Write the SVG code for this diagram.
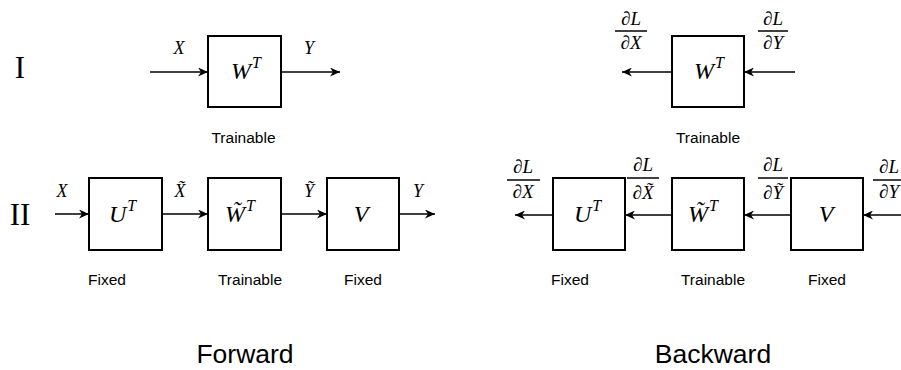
<svg xmlns="http://www.w3.org/2000/svg" width="901" height="370" viewBox="0 0 901 370">
<style>
.box{fill:#fff;stroke:#000;stroke-width:2}
.conn{stroke:#000;stroke-width:1.3;fill:none}
.m{font-family:"Liberation Serif","Times New Roman",serif;font-style:italic;font-size:18px;fill:#000}
.f{font-size:19px}
.mb{font-family:"Liberation Serif","Times New Roman",serif;font-style:italic;font-size:24px;fill:#000}
.sup{font-size:16px}
.lab{font-family:"Liberation Sans",Arial,sans-serif;font-size:15.5px;fill:#000;text-anchor:middle}
.big{font-family:"Liberation Sans",Arial,sans-serif;font-size:26.5px;fill:#000;text-anchor:middle}
.rom{font-family:"Liberation Serif","Times New Roman",serif;font-size:31px;fill:#000;text-anchor:middle}
.bar{stroke:#000;stroke-width:1.5}
.c{text-anchor:middle}
</style>
<defs>
<marker id="ah" markerUnits="userSpaceOnUse" markerWidth="11" markerHeight="9" refX="10" refY="4.5" orient="auto">
<path d="M0,0 L10,4.5 L0,9 L3,4.5 z" fill="#000"/>
</marker>
</defs>

<text class="rom" x="20" y="78">I</text>
<text class="rom" x="20" y="225">II</text>

<g id="connectors">
<line class="conn" x1="150" y1="72" x2="208" y2="72" marker-end="url(#ah)"/>
<line class="conn" x1="281" y1="72" x2="340" y2="72" marker-end="url(#ah)"/>
<line class="conn" x1="55" y1="214" x2="89" y2="214" marker-end="url(#ah)"/>
<line class="conn" x1="162" y1="214" x2="208" y2="214" marker-end="url(#ah)"/>
<line class="conn" x1="281" y1="214" x2="327" y2="214" marker-end="url(#ah)"/>
<line class="conn" x1="399" y1="214" x2="435" y2="214" marker-end="url(#ah)"/>
<line class="conn" x1="795" y1="72" x2="744" y2="72" marker-end="url(#ah)"/>
<line class="conn" x1="672" y1="72" x2="622" y2="72" marker-end="url(#ah)"/>
<line class="conn" x1="901" y1="215" x2="863" y2="215" marker-end="url(#ah)"/>
<line class="conn" x1="791" y1="215" x2="744" y2="215" marker-end="url(#ah)"/>
<line class="conn" x1="672" y1="215" x2="625" y2="215" marker-end="url(#ah)"/>
<line class="conn" x1="553" y1="215" x2="515" y2="215" marker-end="url(#ah)"/>
</g>

<!-- Forward labels -->
<text class="m c" x="179" y="54">X</text>
<text class="m c" x="309" y="54">Y</text>
<text class="m c" x="62" y="197">X</text>
<text class="m c" x="180" y="197">X̃</text>
<text class="m c" x="309" y="197">Ỹ</text>
<text class="m c" x="418" y="197">Y</text>

<g id="fwd-W">
<rect class="box" x="208" y="36" width="73" height="71"/>
<text class="mb" x="231" y="79">W<tspan class="sup" dx="1" dy="-11">T</tspan></text>
<text class="lab" x="243.5" y="143">Trainable</text>
</g>
<g id="fwd-U">
<rect class="box" x="89" y="178" width="73" height="72"/>
<text class="mb" x="109" y="222">U<tspan class="sup" dx="1" dy="-11">T</tspan></text>
<text class="lab" x="107" y="285">Fixed</text>
</g>
<g id="fwd-Wt">
<rect class="box" x="208" y="178" width="73" height="72"/>
<text class="mb" x="225" y="222">W̃<tspan class="sup" dx="1" dy="-11">T</tspan></text>
<text class="lab" x="250" y="285">Trainable</text>
</g>
<g id="fwd-V">
<rect class="box" x="327" y="178" width="72" height="72"/>
<text class="mb c" x="361" y="222">V</text>
<text class="lab" x="363" y="285">Fixed</text>
</g>

<!-- Backward -->
<g id="bwd-W">
<rect class="box" x="672" y="36" width="72" height="71"/>
<text class="mb" x="694" y="79">W<tspan class="sup" dx="1" dy="-11">T</tspan></text>
<text class="lab" x="708" y="143">Trainable</text>
</g>
<g id="bwd-U">
<rect class="box" x="553" y="178" width="72" height="72"/>
<text class="mb" x="574" y="222">U<tspan class="sup" dx="1" dy="-11">T</tspan></text>
<text class="lab" x="570" y="285">Fixed</text>
</g>
<g id="bwd-Wt">
<rect class="box" x="672" y="178" width="72" height="72"/>
<text class="mb" x="688" y="222">W̃<tspan class="sup" dx="1" dy="-11">T</tspan></text>
<text class="lab" x="713" y="285">Trainable</text>
</g>
<g id="bwd-V">
<rect class="box" x="791" y="178" width="72" height="72"/>
<text class="mb c" x="826" y="222">V</text>
<text class="lab" x="827" y="285">Fixed</text>
</g>

<!-- fractions -->
<g id="frac-dX1">
<text class="m f c" x="631" y="25">∂L</text>
<line class="bar" x1="615" y1="31" x2="647" y2="31"/>
<text class="m f c" x="631" y="49">∂X</text>
</g>
<g id="frac-dY1">
<text class="m f c" x="773" y="25">∂L</text>
<line class="bar" x1="758" y1="31" x2="788" y2="31"/>
<text class="m f c" x="773" y="49">∂Y</text>
</g>
<g id="frac-dX2">
<text class="m f c" x="523" y="173">∂L</text>
<line class="bar" x1="507" y1="180" x2="540" y2="180"/>
<text class="m f c" x="523" y="198">∂X</text>
</g>
<g id="frac-dXt">
<text class="m f c" x="643" y="171">∂L</text>
<line class="bar" x1="627" y1="178" x2="659" y2="178"/>
<text class="m f c" x="643" y="199">∂X̃</text>
</g>
<g id="frac-dYt">
<text class="m f c" x="773" y="171">∂L</text>
<line class="bar" x1="758" y1="178" x2="788" y2="178"/>
<text class="m f c" x="773" y="199">∂Ỹ</text>
</g>
<g id="frac-dY2">
<text class="m f c" x="889" y="173">∂L</text>
<line class="bar" x1="873" y1="180" x2="905" y2="180"/>
<text class="m f c" x="889" y="198">∂Y</text>
</g>

<text class="big" x="245" y="363">Forward</text>
<text class="big" x="713" y="363">Backward</text>
</svg>
